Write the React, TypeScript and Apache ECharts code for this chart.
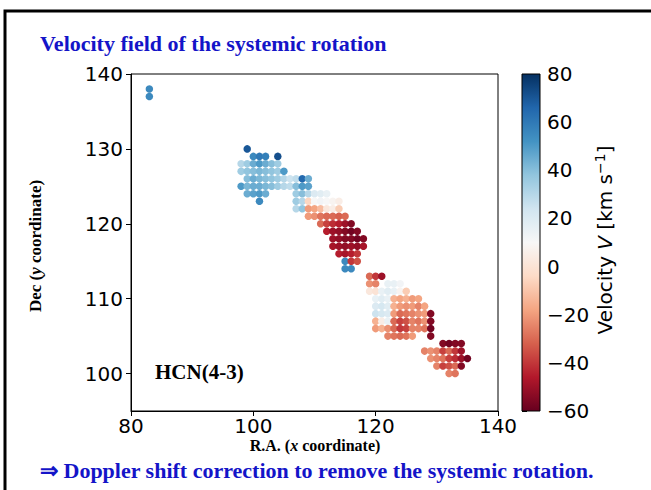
import React, { useEffect, useRef } from "react";
import * as echarts from "echarts";

// Each row: [y (Dec), first x (R.A.), velocities along x; null = no point]
const OUTLIER_ROWS: [number, number, (number | null)[]][] = [
  [138, 83, [55]],
  [137, 83, [55]],
];

const NORTH_ROWS: [number, number, (number | null)[]][] = [
  [130, 99, [70]],
  [129, 100, [55, 60, 58, null, 72]],
  [128, 98, [30, 35, 45, 50, 45, 40, 35]],
  [127, 98, [35, 38, 40, 42, 40, 38, 35, 50]],
  [126, 99, [40, 45, 42, 40, 38, 35, 30, 25, 28, 65, 45]],
  [125, 98, [50, 42, 45, 45, 42, 40, 35, 30, 28, 40, 50, 48]],
  [124, 99, [45, 48, 50, 45, null, null, null, null, 35, 40, 30, 20, 18, 15]],
  [123, 101, [55, null, null, null, null, null, 35, 30, -5, 10, 12, 10, 8, 5]],
];

const CENTRAL_ROWS: [number, number, (number | null)[]][] = [
  [122, 107, [30, 38, -20, -18, -12, 2, 5, -8]],
  [121, 109, [-20, -22, -28, -30, -30, -32, -30]],
  [120, 111, [-30, -38, -42, -45, -50, -55]],
  [119, 112, [-45, -50, -52, -55, -58, -55]],
  [118, 113, [-50, -52, -55, -55, -58, -55]],
  [117, 113, [-48, -50, -52, -50, -52, -48]],
  [116, 114, [-45, -48, -45, -40]],
  [115, 115, [55, -40, -35]],
  [114, 115, [55, 55]],
];

const SOUTH_ROWS: [number, number, (number | null)[]][] = [
  [113, 119, [-30, -40, -50]],
  [112, 119, [-22, -25, null, 15, 15, 12]],
  [111, 119, [2, 0, 15, 18, 15, 8, -8]],
  [110, 120, [15, 18, 15, -15, -18, -15, -20, -18]],
  [109, 120, [20, 22, 18, -15, -20, -22, -20, -25, -18]],
  [108, 120, [25, 22, 20, -20, -30, -28, -25, -22, -20, -55]],
  [107, 120, [-15, 5, 15, -30, -38, -35, -25, -28, -22, -55]],
  [106, 120, [-20, -15, -22, -30, -40, -38, -25, -25, -28, -58]],
  [105, 122, [-25, -28, -30, -28, -20, null, null, -55]],
  [104, 131, [-55, -58, -55, -55]],
  [103, 128, [-25, -22, -25, -38, -30, -40, -50]],
  [102, 129, [-22, -25, -28, -38, -42, -50, -58]],
  [101, 130, [-25, -38, -35, -30, -55]],
  [100, 132, [-25, -28]],
];

const X_TICKS = [80, 100, 120, 140];
const Y_TICKS = [100, 110, 120, 130, 140];
const CBAR_TICKS = [-60, -40, -20, 0, 20, 40, 60, 80];
const V_MIN = -60;
const V_MAX = 80;

// RdBu colormap, low (red) -> high (blue)
const RDBU = [
  "#67001f", "#b2182b", "#d6604d", "#f4a582", "#fddbc7", "#f7f7f7",
  "#d1e5f0", "#92c5de", "#4393c3", "#2166ac", "#053061",
];

function rowsToPoints(rows: [number, number, (number | null)[]][]) {
  const pts: number[][] = [];
  rows.forEach(([y, x0, vs]) => {
    vs.forEach((v, i) => {
      if (v !== null) pts.push([x0 + i, y, v]);
    });
  });
  return pts;
}

const SERIF = "'Liberation Serif', 'Times New Roman', serif";
const SANS = "'DejaVu Sans', sans-serif";
const BLUE = "#1414c8";

export default function App() {
  const ref = useRef<HTMLDivElement>(null);
  useEffect(() => {
    if (!ref.current) return;
    const chart = echarts.init(ref.current, null, { renderer: "svg" });
    const points = [
      ...rowsToPoints(OUTLIER_ROWS),
      ...rowsToPoints(NORTH_ROWS),
      ...rowsToPoints(CENTRAL_ROWS),
      ...rowsToPoints(SOUTH_ROWS),
    ];
    const stops = RDBU.map((c, i) => ({ offset: i / (RDBU.length - 1), color: c }));
    const minus = (v: number) => String(v).replace("-", "\u2212");
    chart.setOption({
      animation: false,
      backgroundColor: "#fff",
      grid: [
        { left: 131, right: 153, top: 74, bottom: 79, show: true, borderColor: "#000", borderWidth: 1 },
        { left: 522, width: 18, top: 74, height: 337, show: false },
      ],
      xAxis: [
        {
          type: "value", gridIndex: 0, min: 80, max: 140, interval: 20,
          axisLine: { show: true, lineStyle: { color: "#000", width: 1 } },
          axisTick: { show: true, inside: false, length: 5, lineStyle: { color: "#000" }, customValues: X_TICKS },
          axisLabel: { color: "#000", fontFamily: SANS, fontSize: 20, margin: 5, customValues: X_TICKS },
          splitLine: { show: false },
        },
        { type: "value", gridIndex: 1, min: 0, max: 1, show: false },
      ],
      yAxis: [
        {
          type: "value", gridIndex: 0, min: 95, max: 140,
          axisLine: { show: true, lineStyle: { color: "#000", width: 1 } },
          axisTick: { show: true, inside: false, length: 5, lineStyle: { color: "#000" }, customValues: Y_TICKS },
          axisLabel: { color: "#000", fontFamily: SANS, fontSize: 20, margin: 8, customValues: Y_TICKS },
          splitLine: { show: false },
        },
        {
          type: "value", gridIndex: 1, min: V_MIN, max: V_MAX, interval: 20, position: "right",
          axisLine: { show: false },
          axisTick: { show: true, inside: false, length: 5, lineStyle: { color: "#000" }, customValues: CBAR_TICKS },
          axisLabel: { color: "#000", fontFamily: SANS, fontSize: 20, margin: 7, customValues: CBAR_TICKS, formatter: (v: number) => minus(v) },
          splitLine: { show: false },
        },
      ],
      visualMap: {
        show: false, type: "continuous", min: V_MIN, max: V_MAX, dimension: 2, seriesIndex: 0,
        inRange: { color: RDBU },
      },
      series: [
        {
          type: "scatter", xAxisIndex: 0, yAxisIndex: 0, data: points,
          symbolSize: 7.5, itemStyle: { opacity: 1 },
        },
      ],
      graphic: [
        { type: "rect", z: 100, silent: true, shape: { x: 5, y: 11, width: 800, height: 600 }, style: { fill: "none", stroke: "#000", lineWidth: 3 } },
        { type: "rect", z: 10, shape: { x: 522, y: 74, width: 18, height: 337 }, style: { fill: { type: "linear", x: 0, y: 1, x2: 0, y2: 0, colorStops: stops }, stroke: "#000", lineWidth: 1 } },
        { type: "text", x: 40, y: 43, style: { text: "Velocity field of the systemic rotation", font: `bold 22px ${SERIF}`, fill: BLUE, verticalAlign: "middle" } },
        { type: "text", x: 40, y: 470, style: { text: "\u21d2 Doppler shift correction to remove the systemic rotation.", font: `bold 22px ${SERIF}`, fill: BLUE, verticalAlign: "middle" } },
        { type: "text", x: 155, y: 372, style: { text: "HCN(4-3)", font: `bold 21px ${SERIF}`, fill: "#000", verticalAlign: "middle" } },
        {
          type: "text", x: 315, y: 445,
          style: {
            text: "{b|R.A. (}{i|x}{b| coordinate)}", align: "center", verticalAlign: "middle",
            rich: { b: { font: `bold 16px ${SERIF}`, fill: "#000" }, i: { font: `italic bold 16px ${SERIF}`, fill: "#000" } },
          },
        },
        {
          type: "text", x: 35, y: 246, rotation: Math.PI / 2,
          style: {
            text: "{b|Dec (}{i|y}{b| coordinate)}", align: "center", verticalAlign: "middle",
            rich: { b: { font: `bold 17px ${SERIF}`, fill: "#000" }, i: { font: `italic bold 17px ${SERIF}`, fill: "#000" } },
          },
        },
        {
          type: "text", x: 605, y: 240, rotation: Math.PI / 2,
          style: {
            text: "{n|Velocity }{i|V}{n| [km s}{s|\u22121}{n|]}", align: "center", verticalAlign: "middle",
            rich: {
              n: { font: `20px ${SANS}`, fill: "#000" },
              i: { font: `oblique 20px ${SANS}`, fill: "#000" },
              s: { font: `14px ${SANS}`, fill: "#000", padding: [0, 0, 10, 0] },
            },
          },
        },
      ],
    });
    return () => chart.dispose();
  }, []);
  return <div ref={ref} style={{ position: "fixed", left: 0, top: 0, width: 651, height: 490 }} />;
}
